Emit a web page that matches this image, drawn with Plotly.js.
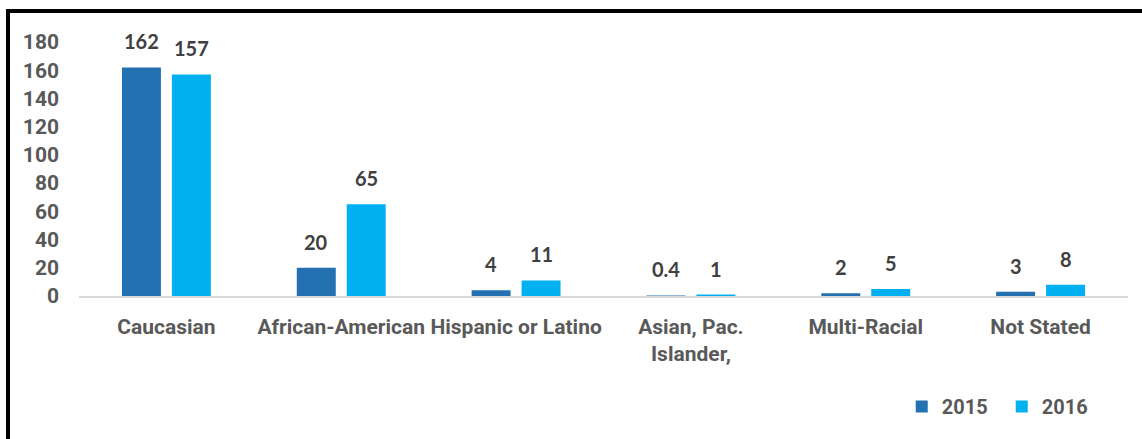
<!DOCTYPE html>
<html>
<head>
<meta charset="utf-8">
<script src="https://cdn.plot.ly/plotly-3.0.1.min.js"></script>
<style>
  html, body { margin: 0; padding: 0; background: #fff; overflow: hidden; }
  #chart { position: absolute; left: 0; top: 0; width: 1142px; height: 439px; }
  #frame { position: absolute; left: 6px; top: 9px; width: 1300px; height: 600px;
           border: 4px solid #000; pointer-events: none; }
</style>
</head>
<body>
<div id="chart"></div>
<div id="frame"></div>
<script>
const categories = ["Caucasian", "African-American", "Hispanic or Latino", "Asian, Pac.<br>Islander,", "Multi-Racial", "Not Stated"];
const values2015 = [162, 20, 4, 0.4, 2, 3];
const values2016 = [157, 65, 11, 1, 5, 8];
const seriesNames = ["2015", "2016"];
const yTicks = [0, 20, 40, 60, 80, 100, 120, 140, 160, 180];

const colors = ["#2371B0", "#00B0F0"];
const tickFont = { family: "Roboto, sans-serif", size: 21, color: "#595959", weight: 700 };
const labelFont = { family: "Lato, sans-serif", size: 20, color: "#404040", weight: 700 };

const traces = [values2015, values2016].map((vals, i) => ({
  type: "bar",
  name: seriesNames[i],
  x: categories,
  y: vals,
  marker: { color: colors[i] },
  hoverinfo: "x+y+name"
}));

const annotations = [];
[values2015, values2016].forEach((vals, i) => {
  vals.forEach((v, j) => {
    annotations.push({
      xref: "x", yref: "y",
      x: categories[j], y: v,
      text: String(v),
      showarrow: false,
      xanchor: "center", yanchor: "middle",
      xshift: i === 0 ? -25 : 25,
      yshift: 26,
      font: labelFont
    });
  });
});

const layout = {
  width: 1142, height: 439,
  margin: { l: 78.5, r: 13.5, t: 41.5, b: 142.5, pad: 0 },
  paper_bgcolor: "#ffffff",
  plot_bgcolor: "#ffffff",
  barmode: "group",
  bargap: 0.4286,
  bargroupgap: 0.22,
  showlegend: true,
  legend: {
    orientation: "h",
    x: 0.7843, xanchor: "left",
    y: -0.4355, yanchor: "middle",
    font: { family: "Roboto, sans-serif", size: 20, color: "#595959", weight: 700 },
    bgcolor: "rgba(0,0,0,0)",
    entrywidth: 55, entrywidthmode: "pixels"
  },
  xaxis: {
    type: "category",
    automargin: false,
    tickangle: 0,
    showgrid: false,
    showline: true,
    linecolor: "#d9d9d9",
    linewidth: 1.5,
    ticks: "",
    tickfont: tickFont,
    ticklabelstandoff: 11,
    zeroline: false
  },
  yaxis: {
    automargin: false,
    range: [0, 180],
    tickvals: yTicks,
    ticktext: yTicks.map(String),
    showgrid: false,
    showline: false,
    zeroline: false,
    ticks: "",
    tickfont: tickFont,
    ticklabelstandoff: 19
  },
  annotations: annotations
};

Plotly.newPlot("chart", traces, layout, { displayModeBar: false, staticPlot: true });
</script>
</body>
</html>
